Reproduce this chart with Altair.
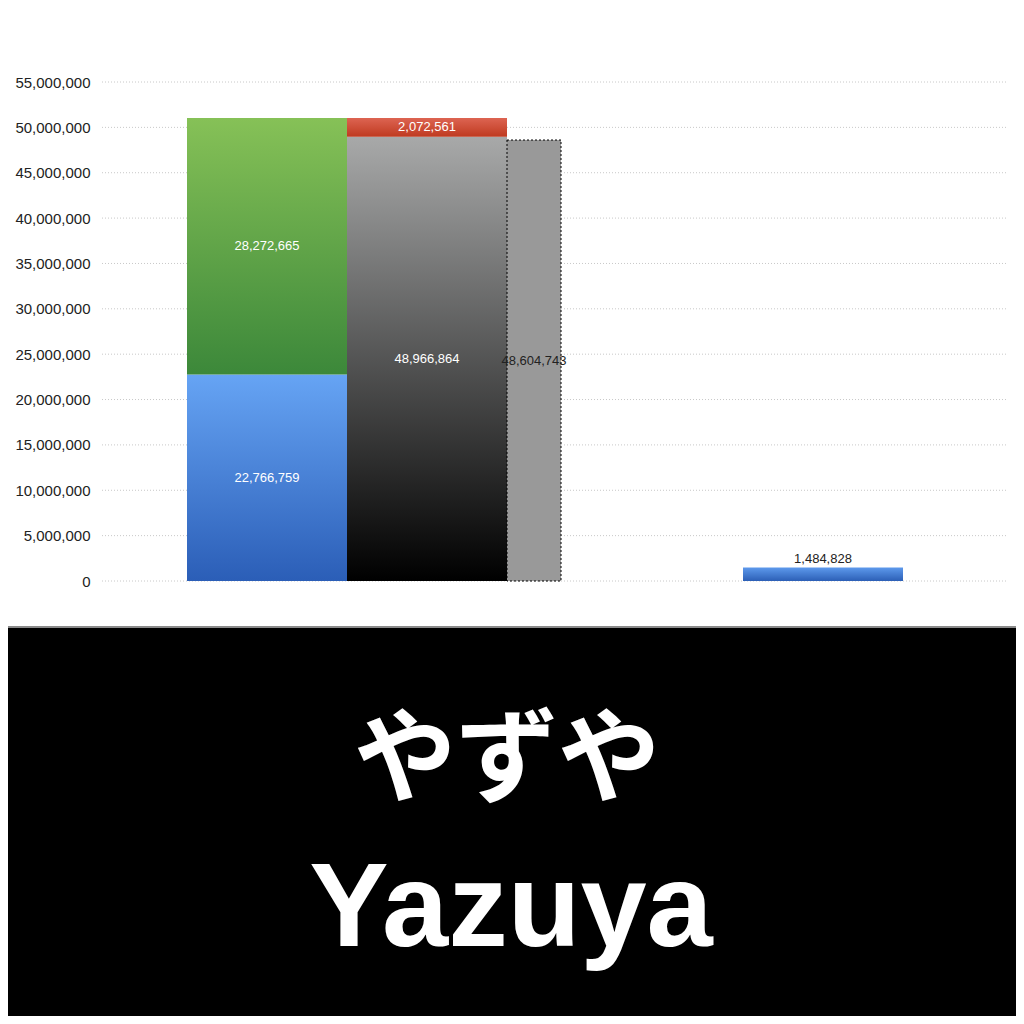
import altair as alt
import pandas as pd

# ---- data ----
CATEGORIES = ["A", "A", "A", "A", "A", "B"]
SERIES = ["s1", "s1", "s2", "s2", "s3", "s1"]
SEGMENTS = ["blue", "green", "black", "red", "gray", "blue2"]
VALUES = [22766759, 28272665, 48966864, 2072561, 48604743, 1484828]
LABELS = ["22,766,759", "28,272,665", "48,966,864", "2,072,561", "48,604,743", "1,484,828"]
Y_TICKS = [0, 5000000, 10000000, 15000000, 20000000, 25000000,
           30000000, 35000000, 40000000, 45000000, 50000000, 55000000]
TITLE_JA = "やずや"
TITLE_EN = "Yazuya"

df = pd.DataFrame({
    "cat": CATEGORIES,
    "series": SERIES,
    "seg": SEGMENTS,
    "value": VALUES,
    "label": LABELS,
    "order": list(range(len(VALUES))),
})
ticks_df = pd.DataFrame({"tick": Y_TICKS})

W, H = 906, 499
BOTTOM = 435


def grad(top, bottom):
    return alt.LinearGradient(
        gradient="linear",
        stops=[alt.GradientStop(offset=0, color=top),
               alt.GradientStop(offset=1, color=bottom)],
        x1=0, x2=0, y1=0, y2=1,
    )


FILLS = {
    "blue": grad("#66a4f4", "#2b5eb7"),
    "green": grad("#86c157", "#3c883a"),
    "black": grad("#a8a9a9", "#000000"),
    "red": grad("#dd6452", "#bf3a20"),
    "blue2": grad("#5d99ec", "#2c5fb6"),
}

xscale = alt.Scale(domain=["A", "B"], range=[85, 1121], paddingInner=76 / 556, paddingOuter=0)
xoscale = alt.Scale(domain=["s1", "s2", "s3"], paddingInner=0, paddingOuter=0)
yscale = alt.Scale(domain=[0, 55000000], nice=False, zero=True)

base = alt.Chart(df).transform_stack(
    stack="value", groupby=["cat", "series"], as_=["y0", "y1"],
    sort=[alt.SortField("order")]
).transform_calculate(mid="(datum.y0 + datum.y1) / 2")

X = alt.X("cat:N", scale=xscale, axis=None)
XO = alt.XOffset("series:N", scale=xoscale)
# the narrow gray bar sits just right of the second bar in group A
GRAY_CENTER = 405 + 27          # px within plot
BAND_CENTER = 85 + 240
XG_TEXT = alt.X("cat:N", scale=xscale, axis=None, bandPosition=(GRAY_CENTER - 85) / 480)

layers = []

# dotted gridlines from the tick values
grid = alt.Chart(ticks_df).mark_rule(color="#c8c8c8", strokeWidth=1, strokeDash=[1, 2]).encode(
    y=alt.Y("tick:Q", scale=yscale,
            axis=alt.Axis(values=Y_TICKS, format=",d", grid=False, domain=False, ticks=False,
                          labelFont="Liberation Sans", labelFontSize=15, labelColor="#222222",
                          labelPadding=12, title=None)),
    x=alt.value(0), x2=alt.value(W),
)
layers.append(grid)

for seg, fill in FILLS.items():
    layers.append(
        base.transform_filter(alt.datum.seg == seg).mark_bar(color=fill).encode(
            x=X, xOffset=XO, y=alt.Y("y1:Q", scale=yscale), y2="y0:Q"
        )
    )

# gray narrow bar with dotted border
layers.append(
    base.transform_filter(alt.datum.seg == "gray").mark_bar(
        color="#999999", stroke="#000000", strokeWidth=1, strokeDash=[2, 2], width=54,
        xOffset=GRAY_CENTER - BAND_CENTER
    ).encode(x=X, y=alt.Y("y1:Q", scale=yscale), y2="y0:Q")
)

# white labels centred inside bars
layers.append(
    base.transform_filter(
        alt.FieldOneOfPredicate(field="seg", oneOf=["blue", "green", "black", "red"])
    ).mark_text(color="#ffffff", font="Liberation Sans", fontSize=13, baseline="middle").encode(
        x=X, xOffset=XO, y=alt.Y("mid:Q", scale=yscale), text="label:N"
    )
)
# gray bar label
layers.append(
    base.transform_filter(alt.datum.seg == "gray").mark_text(
        color="#222222", font="Liberation Sans", fontSize=13, baseline="middle"
    ).encode(x=XG_TEXT, y=alt.Y("mid:Q", scale=yscale), text="label:N")
)
# small bar label above
layers.append(
    base.transform_filter(alt.datum.seg == "blue2").mark_text(
        color="#222222", font="Liberation Sans", fontSize=13, baseline="bottom", dy=-2
    ).encode(x=X, xOffset=XO, y=alt.Y("y1:Q", scale=yscale), text="label:N")
)

# black title band at the bottom
band_df = pd.DataFrame({"ja": [TITLE_JA], "en": [TITLE_EN]})
band = alt.Chart(band_df).mark_rect(color="#000000").encode(
    x=alt.value(-94), x2=alt.value(W + 8), y=alt.value(546), y2=alt.value(H + BOTTOM)
)
divider = alt.Chart(band_df).mark_rule(color="#8a8a8a", strokeWidth=2).encode(
    x=alt.value(-94), x2=alt.value(W + 8), y=alt.value(545)
)
ja_text = alt.Chart(band_df).mark_text(
    color="#ffffff", font="Noto Sans CJK JP", fontWeight="bold", fontSize=102,
    baseline="middle", align="center"
).encode(x=alt.value(405), y=alt.value(681), text="ja:N")
en_text = alt.Chart(band_df).mark_text(
    color="#ffffff", font="Liberation Sans", fontWeight="bold", fontSize=119,
    baseline="alphabetic", align="center"
).encode(x=alt.value(409), y=alt.value(864), text="en:N")

chart = alt.layer(*layers, band, divider, ja_text, en_text).properties(
    width=W, height=H,
    autosize=alt.AutoSizeParams(type="none"),
    padding={"left": 94, "top": 74, "right": 8, "bottom": BOTTOM},
).configure_view(stroke=None)

chart.save("out.html", embed_options={"renderer": "svg", "actions": False})
